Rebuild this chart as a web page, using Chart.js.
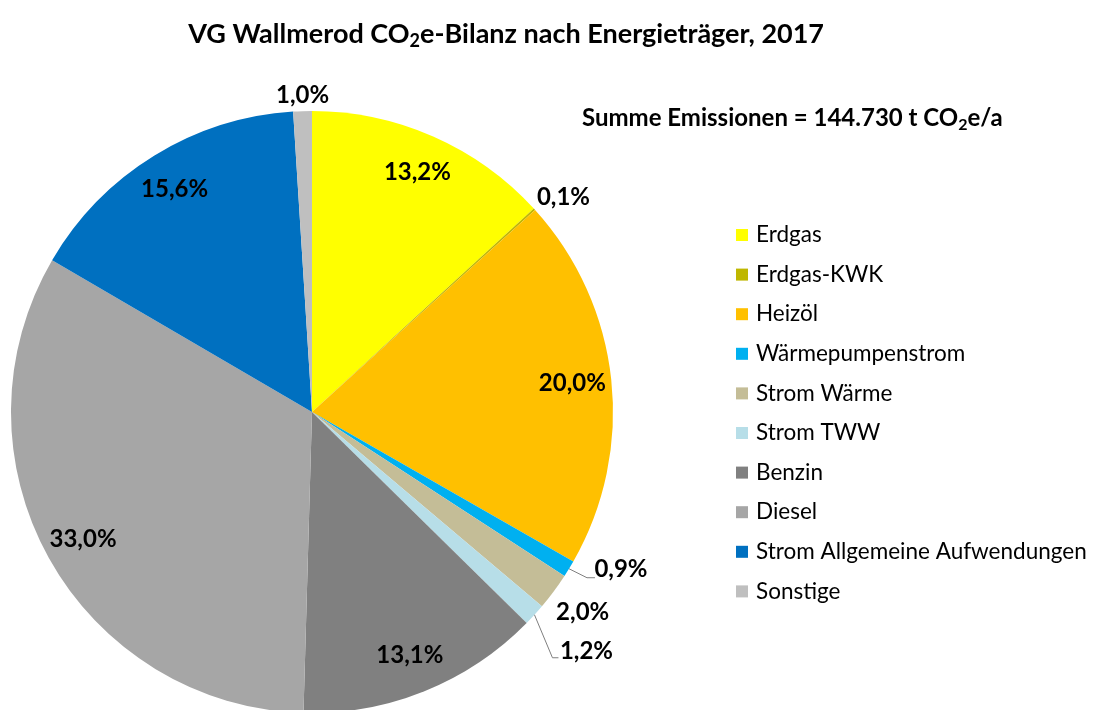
<!DOCTYPE html>
<html lang="de">
<head>
    <meta charset="UTF-8">
    <title>VG Wallmerod CO2e-Bilanz</title>
    <script src="https://cdn.jsdelivr.net/npm/chart.js"></script>
    <style>
        body {
            margin: 0;
            padding: 0;
            background: #fff;
            overflow: hidden;
        }

        .wrap {
            position: relative;
            width: 1099px;
            height: 710px;
        }
    </style>
</head>
<body>
    <div class="wrap">
        <canvas id="pie"></canvas>
    </div>

    <script>
        const labels = ['Erdgas', 'Erdgas-KWK', 'Heizöl', 'Wärmepumpenstrom', 'Strom Wärme',
            'Strom TWW', 'Benzin', 'Diesel', 'Strom Allgemeine Aufwendungen', 'Sonstige'];
        const shares = [13.2, 0.1, 20.0, 0.9, 2.0, 1.2, 13.1, 33.0, 15.6, 1.0];
        const colors = ['#ffff00', '#bfb700', '#ffc000', '#00b0f0', '#c4bd97',
            '#b7dee8', '#808080', '#a6a6a6', '#0070c0', '#bfbfbf'];

        const titleParts = ['VG Wallmerod CO', '2', 'e-Bilanz nach Energieträger, 2017'];
        const sumParts = ['Summe Emissionen = 144.730 t CO', '2', 'e/a'];

        // small slices get their label outside the pie (offset from the rim point)
        const outside = {
            1: { dx: 29, dy: -12 },
            3: { dx: 52, dy: 1, leader: [[-34, 8], [-26, 8]] },
            4: { dx: 29, dy: 21 },
            5: { dx: 52, dy: 37, leader: [[-34, 6], [-28, 6]] },
            9: { dx: 0, dy: -16 }
        };

        const FONT = 'Lato, "Open Sans", sans-serif';

        function fmt(v) {
            return v.toFixed(1).replace('.', ',') + '%';
        }

        function drawSubscripted(ctx, parts, x, y, size) {
            // parts: [before, sub, after], x = left, y = middle
            const subSize = Math.round(size * 0.65);
            ctx.font = 'bold ' + size + 'px ' + FONT;
            const w0 = ctx.measureText(parts[0]).width;
            const w2 = ctx.measureText(parts[2]).width;
            ctx.font = 'bold ' + subSize + 'px ' + FONT;
            const w1 = ctx.measureText(parts[1]).width;
            ctx.textAlign = 'left';
            ctx.textBaseline = 'middle';
            ctx.font = 'bold ' + size + 'px ' + FONT;
            ctx.fillText(parts[0], x, y);
            ctx.font = 'bold ' + subSize + 'px ' + FONT;
            ctx.fillText(parts[1], x + w0, y + size * 0.28);
            ctx.font = 'bold ' + size + 'px ' + FONT;
            ctx.fillText(parts[2], x + w0 + w1, y);
            return w0 + w1 + w2;
        }

        const textPlugin = {
            id: 'texts',
            afterDraw(chart) {
                const ctx = chart.ctx;
                ctx.save();
                ctx.fillStyle = '#000';

                // title, centred
                ctx.font = 'bold 27px ' + FONT;
                let w = ctx.measureText(titleParts[0] + titleParts[2]).width;
                ctx.font = 'bold ' + Math.round(27 * 0.65) + 'px ' + FONT;
                w += ctx.measureText(titleParts[1]).width;
                drawSubscripted(ctx, titleParts, 506 - w / 2, 34, 27);

                // total emissions
                drawSubscripted(ctx, sumParts, 582, 118, 24);

                // percentage labels
                const meta = chart.getDatasetMeta(0);
                meta.data.forEach((arc, i) => {
                    const p = arc.getProps(['x', 'y', 'startAngle', 'endAngle', 'outerRadius'], true);
                    const mid = (p.startAngle + p.endAngle) / 2;
                    let tx, ty;
                    const o = outside[i];
                    if (o) {
                        const ex = p.x + Math.cos(mid) * p.outerRadius;
                        const ey = p.y + Math.sin(mid) * p.outerRadius;
                        tx = ex + o.dx;
                        ty = ey + o.dy;
                        if (o.leader) {
                            ctx.strokeStyle = '#7f7f7f';
                            ctx.lineWidth = 1;
                            ctx.beginPath();
                            ctx.moveTo(ex, ey);
                            ctx.lineTo(tx + o.leader[0][0], ty + o.leader[0][1]);
                            ctx.lineTo(tx + o.leader[1][0], ty + o.leader[1][1]);
                            ctx.stroke();
                        }
                    } else {
                        const r = p.outerRadius * 0.87;
                        tx = p.x + Math.cos(mid) * r;
                        ty = p.y + Math.sin(mid) * r;
                    }
                    ctx.font = 'bold 24px ' + FONT;
                    ctx.textAlign = 'center';
                    ctx.textBaseline = 'middle';
                    ctx.fillText(fmt(shares[i]), tx, ty);
                });

                // legend
                ctx.font = '22.5px ' + FONT;
                ctx.textAlign = 'left';
                ctx.textBaseline = 'middle';
                labels.forEach((lab, i) => {
                    const y = 235 + i * 39.6;
                    ctx.fillStyle = colors[i];
                    ctx.fillRect(736, y - 6, 12, 12);
                    ctx.fillStyle = '#000';
                    ctx.fillText(lab, 756, y);
                });
                ctx.restore();
            }
        };

        const chart = new Chart(document.getElementById('pie'), {
            type: 'pie',
            data: {
                labels: labels,
                datasets: [{
                    data: shares,
                    backgroundColor: colors,
                    borderWidth: 0
                }]
            },
            options: {
                responsive: true,
                maintainAspectRatio: false,
                animation: false,
                radius: 301,
                layout: {
                    padding: { left: 10, right: 485, top: 114, bottom: 0 }
                },
                plugins: {
                    legend: { display: false },
                    title: { display: false },
                    tooltip: { enabled: false }
                }
            },
            plugins: [textPlugin]
        });
    </script>
</body>
</html>
